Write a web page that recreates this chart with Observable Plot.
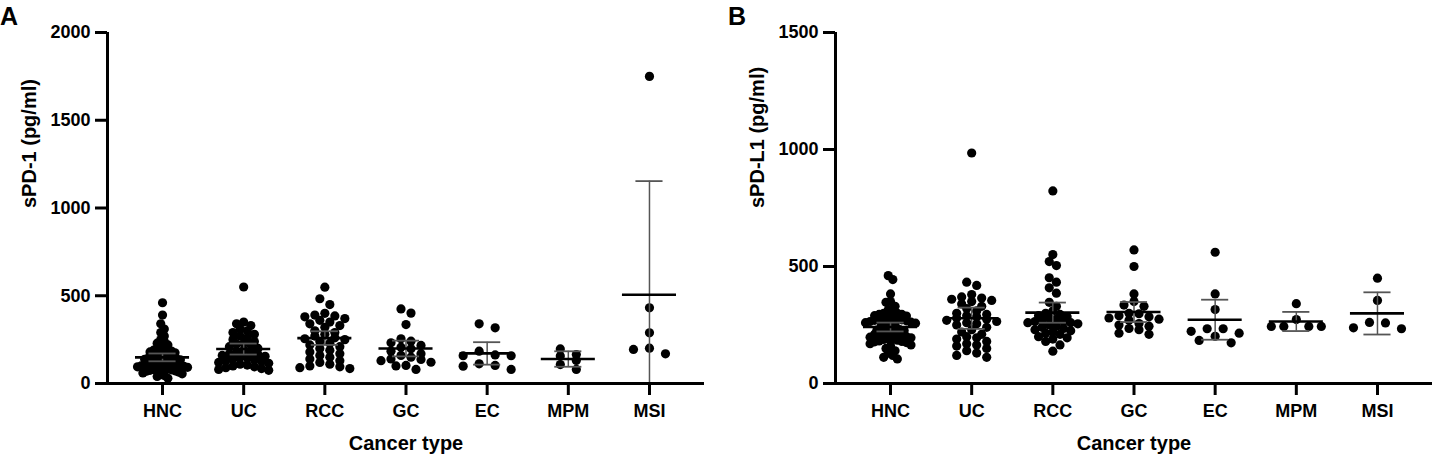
<!DOCTYPE html>
<html><head><meta charset="utf-8">
<script src="https://cdn.jsdelivr.net/npm/d3@7"></script>
<script src="https://cdn.jsdelivr.net/npm/@observablehq/plot@0.6"></script>
<style>
body{margin:0;background:#fff;font-family:"Liberation Sans",Arial,sans-serif;overflow:hidden;}
#wrap{position:relative;width:1436px;height:460px;display:flex;}
.panel{width:718px;height:460px;}
.tag{position:absolute;font-weight:bold;font-size:25px;line-height:1;color:#000;}
</style></head><body>
<div id="wrap"><div class="panel" id="pa"></div><div class="panel" id="pb"></div>
<div class="tag" style="left:0px;top:4px">A</div><div class="tag" style="left:728px;top:4px">B</div></div>
<script>
const categories = ["HNC","UC","RCC","GC","EC","MPM","MSI"];

// Panel A: sPD-1 (pg/ml)
const sPD1_HNC = [460,390,340,310,290,270,250,240,230,220,210,205,200,195,190,185,180,175,170,165,160,158,155,150,148,145,140,138,135,130,128,125,120,118,115,112,110,108,105,102,100,98,95,92,90,88,85,82,80,78,75,72,70,65,60,55,50,45,40,30];
const sPD1_UC = [550,350,340,330,310,300,290,280,270,260,250,240,230,225,220,210,200,190,180,175,170,165,160,155,150,145,140,135,130,125,120,115,110,105,100,95,90,85,80,75];
const sPD1_RCC = [549,483,450,400,390,385,380,370,360,350,340,330,320,300,290,280,270,260,255,250,240,230,220,210,200,190,180,170,160,150,140,130,120,110,100,95,90,85];
const sPD1_GC = [425,401,336,255,241,232,217,207,198,184,170,160,150,140,137,130,121,103,100,80];
const sPD1_EC = [340,317,184,163,158,158,112,103,99,80];
const sPD1_MPM = [197,165,156,131,108,80];
const sPD1_MSI = [1750,431,289,201,194,169];

// Panel B: sPD-L1 (pg/ml)
const sPDL1_HNC = [461,444,383,350,347,330,315,305,300,295,300,295,290,288,285,282,280,278,275,272,270,268,265,262,260,258,255,252,250,248,230,228,226,224,222,220,218,215,212,210,200,198,195,192,190,188,185,182,180,178,175,170,165,160,150,140,130,120,112,105];
const sPDL1_UC = [985,433,419,380,370,365,360,355,350,340,330,320,310,300,295,290,285,280,275,270,265,260,255,250,240,230,220,210,200,195,190,180,170,165,160,150,140,130,120,112];
const sPDL1_RCC = [823,551,521,504,452,433,409,386,347,330,310,300,295,290,285,280,275,270,265,260,265,260,255,250,245,240,235,230,225,220,215,210,200,195,190,180,165,138];
const sPDL1_GC = [571,500,383,350,335,330,300,298,290,285,280,275,270,256,250,245,235,230,215,210];
const sPDL1_EC = [561,383,316,234,234,223,215,202,184,174];
const sPDL1_MPM = [341,273,244,244,244,244];
const sPDL1_MSI = [450,355,261,259,238,234];

const ticksA = [0,500,1000,1500,2000];
const ticksB = [0,500,1000,1500];

function tCrit(df){ // two-sided 95% t quantile (Cornish-Fisher expansion)
  const z=1.959964, z3=z**3, z5=z**5, z7=z**7, z9=z**9;
  return z + (z3+z)/(4*df) + (5*z5+16*z3+3*z)/(96*df*df) + (3*z7+19*z5+17*z3-15*z)/(384*df**3) + (79*z9+776*z7+1482*z5-1920*z3-945*z)/(92160*df**4);
}

// Prism-like scatter: points close in y share a row; one spacing per group
function scatterRows(vals, i, ky, stepPx){
  const binPx=7, maxSpace=16, maxWidth=50;
  const sorted=vals.slice().sort((a,b)=>b-a);
  const rows=[]; let cur=null;
  for(const v of sorted){
    if(cur && (cur.top - v*ky) < binPx) cur.items.push(v);
    else { cur={top:v*ky, items:[v]}; rows.push(cur); }
  }
  const mMax=d3.max(rows,r=>r.items.length);
  const s = mMax>1 ? Math.min(maxSpace, maxWidth/(mMax-1)) : 0;
  const out=[];
  for(const r of rows){
    const m=r.items.length;
    const offs=d3.range(m).map(k=>(k-(m-1)/2)*s).sort((a,b)=>Math.abs(a)-Math.abs(b) || a-b);
    r.items.forEach((v,k)=>out.push({x:i+offs[k]/stepPx, v, cat:categories[i]}));
  }
  return out;
}

function panel(el, groups, o){
  const W=718,H=460,mt=32,mb=77,pad=0.678;
  const n=categories.length;
  const stepPx=(W-o.ml-o.mr)/(n-1+2*pad);
  const ky=(H-mt-mb)/o.ymax;
  let pts=[]; const stats=[];
  groups.forEach((vals,i)=>{
    pts=pts.concat(scatterRows(vals,i,ky,stepPx));
    const m=d3.mean(vals), s=d3.deviation(vals), h=tCrit(vals.length-1)*s/Math.sqrt(vals.length);
    stats.push({i, mean:m, lo:m-h, hi:m+h});
  });
  const ff='"Liberation Sans", Arial, sans-serif';
  const chart=Plot.plot({
    width:W,height:H,marginTop:mt,marginBottom:mb,marginLeft:o.ml,marginRight:o.mr,
    x:{domain:[-pad,n-1+pad]},
    y:{domain:[0,o.ymax]},
    style:{fontFamily:ff,fontWeight:"bold",color:"#000",background:"#fff",overflow:"visible"},
    marks:[
      Plot.dot(pts,{x:"x",y:"v",r:4.6,fill:"#000",stroke:"none"}),
      Plot.ruleX(stats,{x:"i",y1:"lo",y2:"hi",stroke:"#555",strokeWidth:1.5,clip:true}),
      Plot.ruleY(stats,{y:"hi",x1:d=>d.i-0.167,x2:d=>d.i+0.167,stroke:"#555",strokeWidth:1.8,clip:true}),
      Plot.ruleY(stats,{y:"lo",x1:d=>d.i-0.167,x2:d=>d.i+0.167,stroke:"#555",strokeWidth:1.8,clip:true}),
      Plot.ruleY(stats,{y:"mean",x1:d=>d.i-0.333,x2:d=>d.i+0.333,stroke:"#000",strokeWidth:2.6}),
      Plot.ruleY([0],{stroke:"#000",strokeWidth:3,insetLeft:-8}),
      Plot.ruleX([-pad],{y1:0,y2:o.ymax,stroke:"#000",strokeWidth:3}),
      Plot.axisY({ticks:o.ticks,tickFormat:d3.format("d"),tickSize:12,tickPadding:5,strokeWidth:3,fontSize:18,fontWeight:"bold",label:null}),
      Plot.axisX({ticks:d3.range(n),tickFormat:i=>categories[i],tickSize:12,tickPadding:9,strokeWidth:3,fontSize:18,fontWeight:"bold",label:null}),
      Plot.text([o.ylabel],{frameAnchor:"left",rotate:-90,dx:-78,fontSize:20,fontWeight:"bold",fill:"#000"}),
      Plot.text(["Cancer type"],{frameAnchor:"bottom",lineAnchor:"top",dy:52,fontSize:20,fontWeight:"bold",fill:"#000"})
    ]
  });
  document.getElementById(el).appendChild(chart);
}

panel("pa",[sPD1_HNC,sPD1_UC,sPD1_RCC,sPD1_GC,sPD1_EC,sPD1_MPM,sPD1_MSI],{ymax:2000,ticks:ticksA,ylabel:"sPD-1 (pg/ml)",ml:107,mr:14});
panel("pb",[sPDL1_HNC,sPDL1_UC,sPDL1_RCC,sPDL1_GC,sPDL1_EC,sPDL1_MPM,sPDL1_MSI],{ymax:1500,ticks:ticksB,ylabel:"sPD-L1 (pg/ml)",ml:117,mr:4});
</script>
</body></html>
